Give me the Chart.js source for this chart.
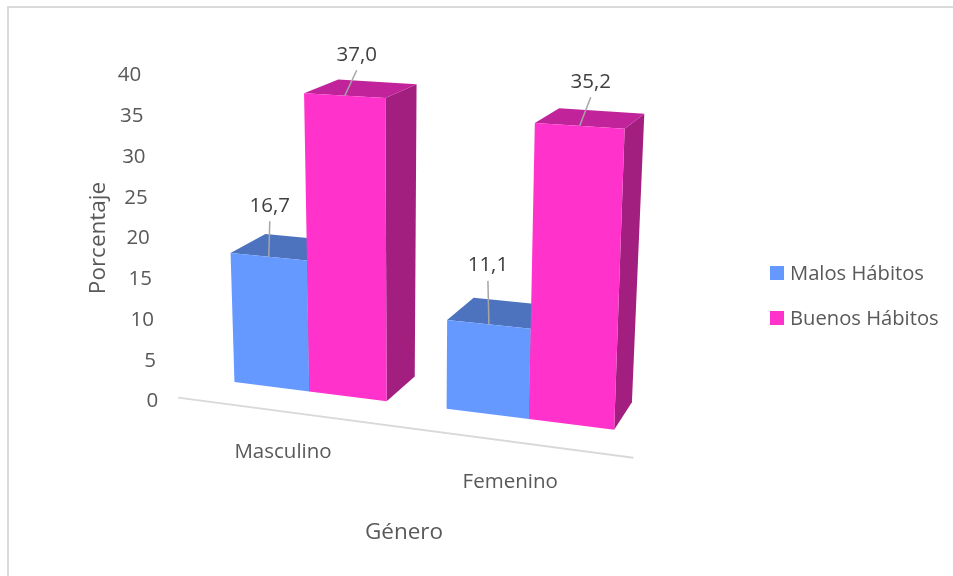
<!DOCTYPE html>
<html>
<head>
<meta charset="utf-8">
<style>
html,body{margin:0;padding:0;background:#fff}
canvas{display:block}
</style>
<script src="https://cdn.jsdelivr.net/npm/chart.js@4"></script>
</head>
<body>
<canvas id="c" width="953" height="576"></canvas>
<script>
const categories = ['Masculino', 'Femenino'];
const malosHabitos = [16.7, 11.1];
const buenosHabitos = [37.0, 35.2];
const yTicks = [0, 5, 10, 15, 20, 25, 30, 35, 40];
const seriesNames = ['Malos Hábitos', 'Buenos Hábitos'];
const xTitle = 'Género';
const yTitle = 'Porcentaje';

const FONT = '"Open Sans", sans-serif';
const TEXT = '#595959';
const LABEL = '#404040';

// Perspective of the plot box: where the scale corners land on the page
// (order: bottom-left, bottom-right, top-right, top-left)
const FRONT = [[207, 378.5], [647, 434], [661, 87], [196, 62]];
const BACK = [[241, 356], [663, 406], [679, 74], [234, 49]];
const AXIS_DEPTH = -0.85;

function makeH(q) {
  const [[x0,y0],[x1,y1],[x2,y2],[x3,y3]] = q;
  const dx1=x1-x2, dx2=x3-x2, sx=x0-x1+x2-x3, dy1=y1-y2, dy2=y3-y2, sy=y0-y1+y2-y3;
  const den=dx1*dy2-dx2*dy1;
  const g=(sx*dy2-dx2*sy)/den, h=(dx1*sy-sx*dy1)/den;
  const a=x1-x0+g*x1, b=x3-x0+h*x3, d=y1-y0+g*y1, e=y3-y0+h*y3;
  return (u,v)=>{const w=g*u+h*v+1;return [(a*u+b*v+x0)/w,(d*u+e*v+y0)/w];};
}
const hFront = makeH(FRONT), hBack = makeH(BACK);

function project(chart, px, py, z) {
  const A = chart.chartArea;
  const u = (px - A.left) / (A.right - A.left);
  const v = (A.bottom - py) / (A.bottom - A.top);
  const f = hFront(u, v), b = hBack(u, v);
  return [f[0] + z * (b[0] - f[0]), f[1] + z * (b[1] - f[1])];
}
function poly(ctx, pts, fill) {
  ctx.beginPath();
  pts.forEach((p, i) => i ? ctx.lineTo(p[0], p[1]) : ctx.moveTo(p[0], p[1]));
  ctx.closePath();
  ctx.fillStyle = fill;
  ctx.fill();
}

const faceColors = [
  { front: '#6699FF', top: '#4D73BF', side: '#3D5C99' },
  { front: '#FF33CC', top: '#C0239A', side: '#A31F7F' }
];
// label offset from the middle of the bar's front top edge
const labelOffset = [[[1, -51], [-1, -59]], [[12, -41], [11, -44]]];
const legendBox = { x: 770, y: 266, size: 14, gap: 45, textGap: 6 };

const persp = {
  id: 'persp',
  beforeDraw(chart) {
    const ctx = chart.ctx;
    ctx.save();
    ctx.strokeStyle = '#D9D9D9';
    ctx.lineWidth = 2;
    ctx.beginPath();
    ctx.moveTo(8, 580); ctx.lineTo(8, 7); ctx.lineTo(960, 7);
    ctx.stroke();
    ctx.restore();
  },
  beforeDatasetsDraw(chart) {
    const ctx = chart.ctx, A = chart.chartArea;
    const xs = chart.scales.x, ys = chart.scales.y;
    ctx.save();
    // floor axis
    const a0 = project(chart, A.left, A.bottom, AXIS_DEPTH);
    const a1 = project(chart, A.right, A.bottom, AXIS_DEPTH);
    ctx.strokeStyle = '#D9D9D9'; ctx.lineWidth = 2;
    ctx.beginPath(); ctx.moveTo(a0[0], a0[1]); ctx.lineTo(a1[0], a1[1]); ctx.stroke();

    // value axis tick labels
    ctx.font = '20.5px ' + FONT; ctx.fillStyle = TEXT;
    ctx.textAlign = 'right'; ctx.textBaseline = 'middle';
    ys.ticks.forEach(t => {
      const py = ys.getPixelForValue(t.value);
      const p = project(chart, A.left, py, AXIS_DEPTH);
      ctx.fillText(t.label, p[0] - 20 - t.value / 16, py + 0.5);
    });
    // category labels
    ctx.textAlign = 'center';
    categories.forEach((c, i) => {
      const p = project(chart, xs.getPixelForValue(i), A.bottom, AXIS_DEPTH);
      ctx.fillText(c, p[0], p[1] + 41);
    });

    // bars
    const tops = [];
    chart.data.datasets.forEach((ds, di) => {
      const meta = chart.getDatasetMeta(di), col = faceColors[di];
      meta.data.forEach((el, i) => {
        const l = el.x - el.width / 2, r = el.x + el.width / 2;
        const fbl = project(chart, l, el.base, 0), fbr = project(chart, r, el.base, 0);
        const ftl = project(chart, l, el.y, 0), ftr = project(chart, r, el.y, 0);
        const bbr = project(chart, r, el.base, 1);
        const btl = project(chart, l, el.y, 1), btr = project(chart, r, el.y, 1);
        poly(ctx, [fbr, bbr, btr, ftr], col.side);
        poly(ctx, [ftl, ftr, btr, btl], col.top);
        poly(ctx, [fbl, fbr, ftr, ftl], col.front);
        tops.push({ di, i, v: ds.data[i], x: (ftl[0] + ftr[0]) / 2, y: (ftl[1] + ftr[1]) / 2 });
      });
    });
    // value labels with leader lines
    ctx.font = '20.5px ' + FONT; ctx.fillStyle = LABEL; ctx.textAlign = 'center';
    ctx.strokeStyle = '#A6A6A6'; ctx.lineWidth = 1.5;
    tops.forEach(t => {
      const o = labelOffset[t.di][t.i];
      const lx = t.x + o[0], ly = t.y + o[1];
      ctx.beginPath(); ctx.moveTo(t.x, t.y); ctx.lineTo(lx, ly + 15.5); ctx.stroke();
      ctx.fillText(t.v.toFixed(1).replace('.', ','), lx, ly);
    });

    // legend
    ctx.font = '20.2px ' + FONT; ctx.textAlign = 'left';
    chart.data.datasets.forEach((ds, di) => {
      const y = legendBox.y + di * legendBox.gap;
      ctx.fillStyle = ds.backgroundColor;
      ctx.fillRect(legendBox.x, y, legendBox.size, legendBox.size);
      ctx.fillStyle = TEXT;
      ctx.fillText(ds.label, legendBox.x + legendBox.size + legendBox.textGap, y + legendBox.size / 2 + 1);
    });
    ctx.restore();
    return false;
  }
};

new Chart(document.getElementById('c'), {
  type: 'bar',
  data: {
    labels: categories,
    datasets: [
      { label: seriesNames[0], data: malosHabitos, backgroundColor: faceColors[0].front, borderWidth: 0 },
      { label: seriesNames[1], data: buenosHabitos, backgroundColor: faceColors[1].front, borderWidth: 0 }
    ]
  },
  plugins: [persp],
  options: {
    responsive: false,
    animation: false,
    devicePixelRatio: 1,
    categoryPercentage: 0.727,
    barPercentage: 1,
    layout: { padding: { left: 85, right: 328, top: 75, bottom: 30 } },
    plugins: {
      tooltip: { enabled: false },
      legend: { display: false }
    },
    scales: {
      x: {
        grid: { display: false }, border: { display: false },
        ticks: { display: false },
        title: { display: true, text: xTitle, color: TEXT, font: { family: FONT, size: 22.5 }, padding: { top: 110, bottom: 0 } }
      },
      y: {
        min: 0, max: 40,
        grid: { display: false }, border: { display: false },
        ticks: { display: false, stepSize: 5 },
        afterBuildTicks(s) { s.ticks = yTicks.map(value => ({ value, label: String(value) })); },
        title: { display: true, text: yTitle, color: TEXT, font: { family: FONT, size: 22.5 }, padding: { top: 0, bottom: 63 } }
      }
    }
  }
});
</script>
</body>
</html>
